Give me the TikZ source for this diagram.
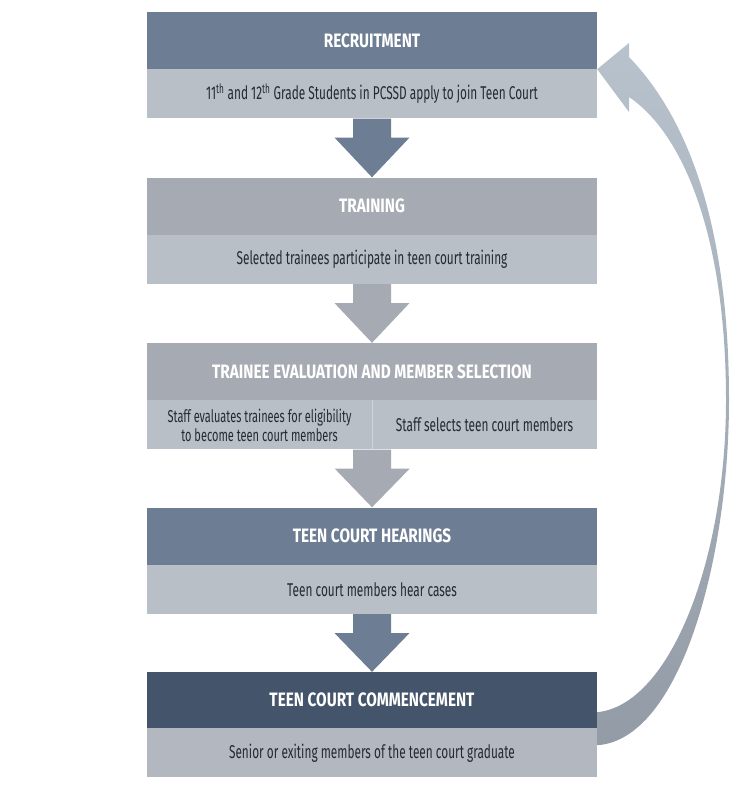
\documentclass[tikz,border=0pt]{standalone}
\usepackage{fontspec}
\setmainfont{Fira Sans}[FakeStretch=0.64]
\newfontfamily\titlefont{Fira Sans}[FakeStretch=0.79]
\usepackage{tikz}
\usetikzlibrary{positioning,calc}

\definecolor{hdblue}{HTML}{6D7D93}
\definecolor{hdgray}{HTML}{A6AAB2}
\definecolor{hddark}{HTML}{44546A}
\definecolor{bodygray}{HTML}{B9BFC7}
\definecolor{bodylast}{HTML}{B3B8C0}
\definecolor{txtdark}{HTML}{262A30}
\definecolor{looptop}{HTML}{B8C2CD}
\definecolor{loopbot}{HTML}{939CA6}

\begin{document}
\begin{tikzpicture}[
  x=1pt,y=-1pt,
  head/.style={rectangle, inner sep=0pt, minimum width=450pt, minimum height=57pt, text=white, font=\titlefont\fontsize{19.4}{22}\selectfont\bfseries},
  body/.style={rectangle, inner sep=0pt, fill=bodygray, minimum width=450pt, minimum height=49pt, text=txtdark, font=\fontsize{18.5}{20}\selectfont},
  half/.style={body, minimum width=225pt, align=center}
]
\useasboundingbox (0,0) rectangle (740,800);

% block arrow from the bottom of one box to the top of the next
\newcommand{\downarrowblock}[3]{%
  \fill[#3] ($(#1)+(-19,0)$) -- ($(#1)+(19,0)$) -- ($(#1)+(19,19)$)
    -- ($(#1)+(37.5,19)$) -- (#2.north) -- ($(#1)+(-37.5,19)$)
    -- ($(#1)+(-19,19)$) -- cycle;}

\node[head, fill=hdblue] (recruit) at (372,40.5) {RECRUITMENT};
\node[body, below=0pt of recruit] (recruittxt) {11\textsuperscript{th} and 12\textsuperscript{th} Grade Students in PCSSD apply to join Teen Court};

\node[head, fill=hdgray] (train) at (372,206) {TRAINING};
\node[body, below=0pt of train] (traintxt) {Selected trainees participate in teen court training};

\node[head, fill=hdgray] (select) at (372,371.5) {TRAINEE EVALUATION AND MEMBER SELECTION};
\node[half, anchor=north west, font=\fontsize{17.2}{19}\selectfont] (evaltxt) at (select.south west) {Staff evaluates trainees for eligibility\\to become teen court members};
\node[half, anchor=north east] (picktxt) at (select.south east) {Staff selects teen court members};
\draw[white, opacity=0.35] (evaltxt.north east) -- (evaltxt.south east);

\node[head, fill=hdblue] (hear) at (372,536) {TEEN COURT HEARINGS};
\node[body, below=0pt of hear] (heartxt) {Teen court members hear cases};

\node[head, fill=hddark, minimum height=56pt] (commence) at (372,700) {TEEN COURT COMMENCEMENT};
\node[body, fill=bodylast, below=0pt of commence] (commencetxt) {Senior or exiting members of the teen court graduate};

\downarrowblock{recruittxt.south}{train}{hdblue}
\downarrowblock{traintxt.south}{select}{hdgray}
\downarrowblock{evaltxt.south east}{hear}{hdgray}
\downarrowblock{heartxt.south}{commence}{hdblue}

% loop back from commencement to recruitment
\shade[top color=looptop, bottom color=loopbot]
  ($(commence.south east)+(0,17)$) .. controls (680,740) and (729,560) .. (729,400)
    .. controls (729,230) and (690,120) .. (629,57)
  -- (629,43) -- (recruit.south east) -- (629,112) -- (629,97)
    .. controls (685,135) and (726,240) .. (726,400)
    .. controls (726,560) and (670,705) .. ($(commence.south east)+(0,-16)$) -- cycle;
\end{tikzpicture}
\end{document}
